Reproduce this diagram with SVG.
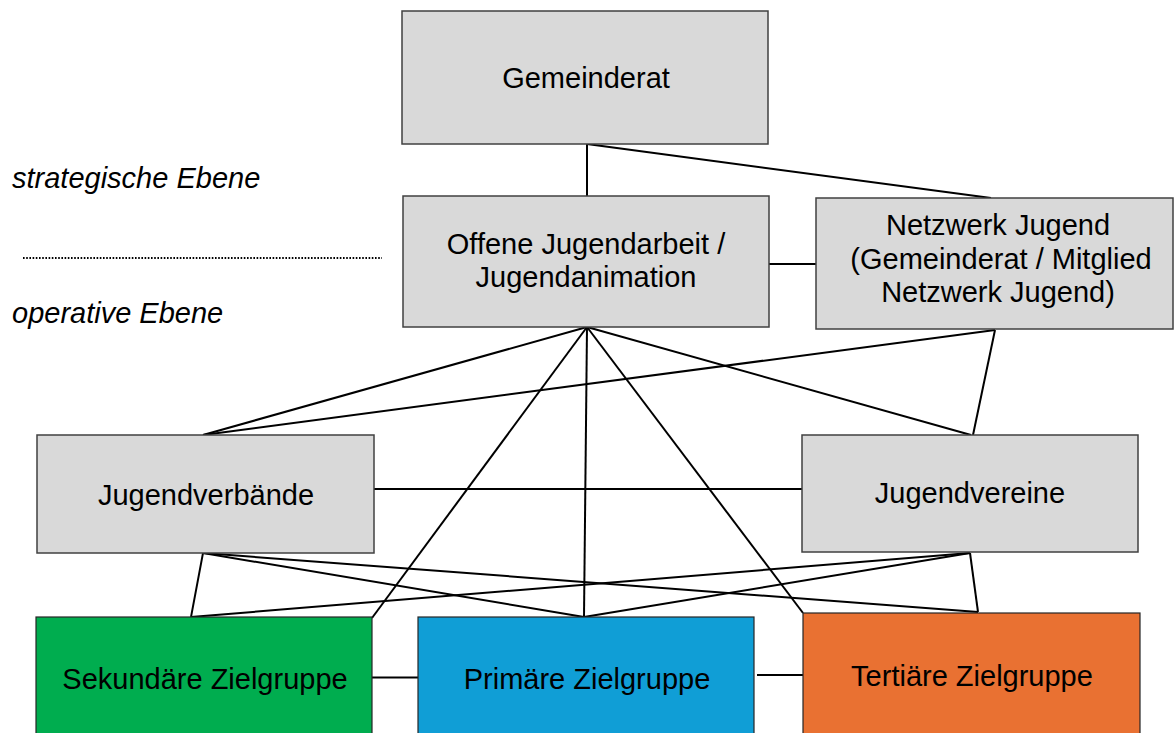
<svg xmlns="http://www.w3.org/2000/svg" width="1174" height="733" viewBox="0 0 1174 733">
<style>
.box{fill:#d9d9d9;stroke:#404040;stroke-width:1.5}
.cbox{stroke:#262626;stroke-width:1.2}
.t{font-family:"Liberation Sans",Arial,sans-serif;font-size:29px;fill:#000;text-anchor:middle}
.lbl{font-family:"Liberation Sans",Arial,sans-serif;font-size:29px;font-style:italic;fill:#000}
.c{stroke:#000;stroke-width:2;fill:none}
</style>
<rect width="1174" height="733" fill="#fff"/>
<g id="connectors">
<line class="c" x1="587" y1="144" x2="587" y2="196"/>
<line class="c" x1="587" y1="144" x2="991" y2="198"/>
<line class="c" x1="769" y1="264" x2="816" y2="264"/>
<line class="c" x1="587" y1="327" x2="203" y2="435"/>
<line class="c" x1="587" y1="327" x2="971" y2="435"/>
<line class="c" x1="587" y1="327" x2="372" y2="618"/>
<line class="c" x1="587" y1="327" x2="584" y2="617"/>
<line class="c" x1="587" y1="327" x2="803" y2="613"/>
<line class="c" x1="995" y1="330" x2="203" y2="435"/>
<line class="c" x1="995" y1="330" x2="973" y2="435"/>
<line class="c" x1="374" y1="489" x2="802" y2="489"/>
<line class="c" x1="203" y1="553" x2="191" y2="617"/>
<line class="c" x1="203" y1="553" x2="584" y2="617"/>
<line class="c" x1="203" y1="553" x2="978" y2="612"/>
<line class="c" x1="970" y1="553" x2="191" y2="617"/>
<line class="c" x1="970" y1="553" x2="584" y2="617"/>
<line class="c" x1="970" y1="553" x2="978" y2="612"/>
<line class="c" x1="372" y1="677.5" x2="418" y2="677.5"/>
<line class="c" x1="757" y1="675" x2="803" y2="675"/>
</g>
<g id="levels">
<text class="lbl" x="12" y="188">strategische Ebene</text>
<line x1="23" y1="258" x2="382" y2="258" stroke="#000" stroke-width="2" stroke-dasharray="1.6 1.6"/>
<text class="lbl" x="12" y="323">operative Ebene</text>
</g>
<g id="gemeinderat">
<rect class="box" x="402" y="11" width="366" height="133"/>
<text class="t" x="586" y="88">Gemeinderat</text>
</g>
<g id="offene">
<rect class="box" x="403" y="196" width="366" height="131"/>
<text class="t" x="586" y="254">Offene Jugendarbeit /</text>
<text class="t" x="586" y="287">Jugendanimation</text>
</g>
<g id="netzwerk">
<rect class="box" x="816" y="198" width="357" height="131"/>
<text class="t" x="998" y="235">Netzwerk Jugend</text>
<text class="t" x="1001" y="269">(Gemeinderat / Mitglied</text>
<text class="t" x="998" y="302">Netzwerk Jugend)</text>
</g>
<g id="jugendverbaende">
<rect class="box" x="37" y="435" width="337" height="118"/>
<text class="t" x="206" y="505">Jugendverbände</text>
</g>
<g id="jugendvereine">
<rect class="box" x="802" y="435" width="336" height="117"/>
<text class="t" x="970" y="503">Jugendvereine</text>
</g>
<g id="sekundaer">
<rect class="cbox" x="36" y="617" width="336" height="130" fill="#00ad4f"/>
<text class="t" x="205" y="689">Sekundäre Zielgruppe</text>
</g>
<g id="primaer">
<rect class="cbox" x="418" y="617" width="336" height="130" fill="#109ed6"/>
<text class="t" x="587" y="689">Primäre Zielgruppe</text>
</g>
<g id="tertiaer">
<rect class="cbox" x="803" y="613" width="337" height="134" fill="#e97132"/>
<text class="t" x="972" y="686">Tertiäre Zielgruppe</text>
</g>
</svg>
